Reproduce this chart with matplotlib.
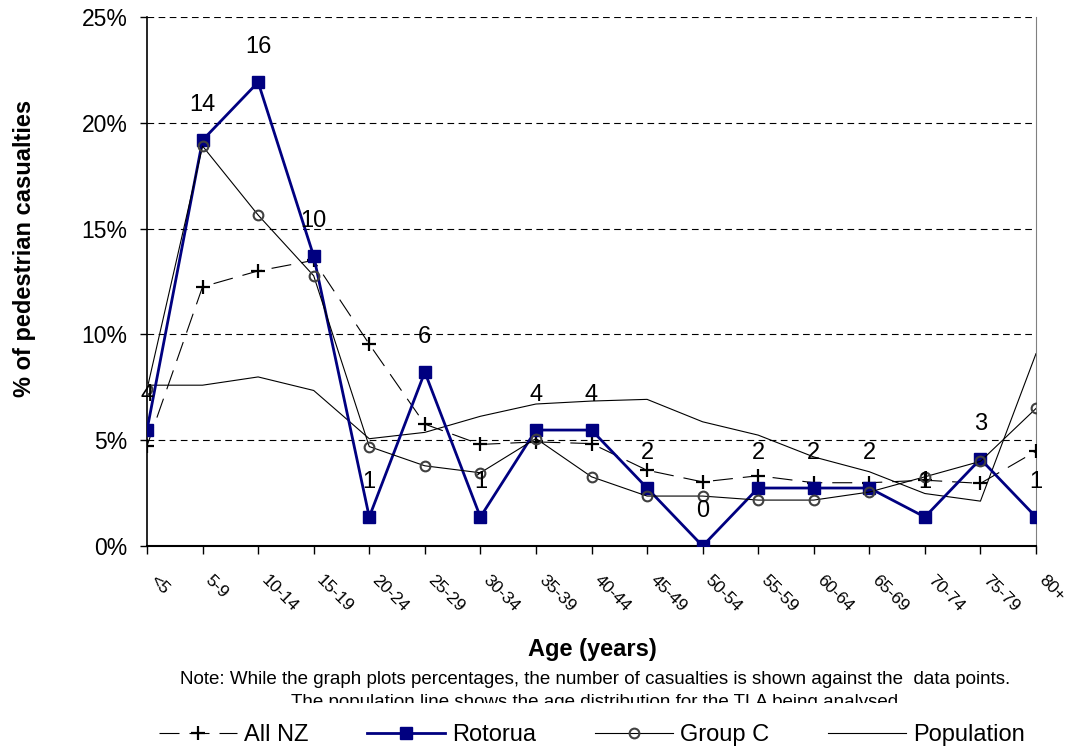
import matplotlib
matplotlib.use("Agg")
import matplotlib.pyplot as plt
from matplotlib.transforms import Bbox

plt.rcParams['font.family'] = ['Liberation Sans', 'DejaVu Sans']

ages = ["<5", "5-9", "10-14", "15-19", "20-24", "25-29", "30-34", "35-39", "40-44",
        "45-49", "50-54", "55-59", "60-64", "65-69", "70-74", "75-79", "80+"]
all_nz = [4.73, 12.25, 13.0, 13.5, 9.54, 5.76, 4.8, 4.92, 4.84, 3.58, 3.03, 3.32, 2.99, 2.99, 3.11, 2.96, 4.48]
rotorua = [5.48, 19.18, 21.92, 13.70, 1.37, 8.22, 1.37, 5.48, 5.48, 2.74, 0.0, 2.74, 2.74, 2.74, 1.37, 4.11, 1.37]
rotorua_counts = [4, 14, 16, 10, 1, 6, 1, 4, 4, 2, 0, 2, 2, 2, 1, 3, 1]
group_c = [7.4, 18.9, 15.64, 12.77, 4.7, 3.79, 3.46, 5.08, 3.27, 2.36, 2.36, 2.17, 2.17, 2.55, 3.27, 4.0, 6.5]
population = [7.6, 7.6, 7.99, 7.35, 5.07, 5.37, 6.13, 6.71, 6.85, 6.93, 5.87, 5.24, 4.21, 3.51, 2.48, 2.12, 9.09]
y_ticks = [0, 5, 10, 15, 20, 25]

W, H = 1072, 749
fig = plt.figure(figsize=(W / 100, H / 100), dpi=100)
ax = fig.add_axes([147 / W, 1 - 546 / H, (1036 - 147) / W, (546 - 17) / H])

x = list(range(len(ages)))
ax.plot(x, population, color='black', lw=0.8, label='Population', zorder=2)
ax.plot(x, all_nz, color='black', lw=0.8, dashes=(18, 9), marker='+', ms=10, mew=1.6,
        label='All NZ', zorder=3)
ax.plot(x, rotorua, color='#000080', lw=2.0, marker='s', ms=8, label='Rotorua', zorder=4)
ax.plot(x, group_c, color='black', lw=0.8, marker='o', ms=7, mfc='none', mec='#404040',
        mew=1.5, label='Group C', zorder=5)

for xi, yi, c in zip(x, rotorua, rotorua_counts):
    ax.annotate(str(c), (xi, yi), xytext=(0, 25), textcoords='offset points',
                ha='center', va='center', fontsize=17, zorder=6)

ax.set_xlim(0, 16)
ax.set_ylim(0, 25)
ax.set_yticks(y_ticks)
ax.set_yticklabels([f"{v}%" for v in y_ticks], fontsize=16.5)
ax.set_xticks(x)
ax.set_xticklabels(ages, rotation=-45, ha='left', va='top', fontsize=12.5)
ax.tick_params(axis='x', direction='out', length=6, width=1, pad=13)
ax.tick_params(axis='y', direction='out', length=5, width=1, pad=9)

ax.yaxis.grid(True, color='black', lw=0.8, ls=(0, (6, 4)))
ax.set_axisbelow(True)
ax.spines['top'].set_visible(False)
ax.spines['right'].set_color('#808080')
ax.spines['left'].set_linewidth(1.2)
ax.spines['bottom'].set_linewidth(1.5)

fig.text(25 / W, 1 - 248 / H, "% of pedestrian casualties", rotation=90, ha='center', va='center',
         fontsize=17, fontweight='bold')
fig.text(592 / W, 1 - 656 / H, "Age (years)", ha='center', va='baseline', fontsize=17, fontweight='bold')
fig.text(595 / W, 1 - 684 / H,
         "Note: While the graph plots percentages, the number of casualties is shown against the  data points.",
         ha='center', va='baseline', fontsize=13.5)
t2 = fig.text(595 / W, 1 - 707 / H,
              "The population line shows the age distribution for the TLA being analysed",
              ha='center', va='baseline', fontsize=13.5)
t2.set_clip_box(Bbox([[0, H - 703], [W, H]]))
t2.set_clip_on(True)

handles, labels = ax.get_legend_handles_labels()
order = [labels.index(n) for n in ['All NZ', 'Rotorua', 'Group C', 'Population']]
fig.legend([handles[i] for i in order], [labels[i] for i in order],
           loc='center', bbox_to_anchor=(592 / W, 1 - 735 / H), ncol=4, frameon=False,
           fontsize=17, handlelength=3.3, columnspacing=2.5, handletextpad=0.3,
           borderpad=0, borderaxespad=0)

fig.savefig("out.png", dpi=100)
